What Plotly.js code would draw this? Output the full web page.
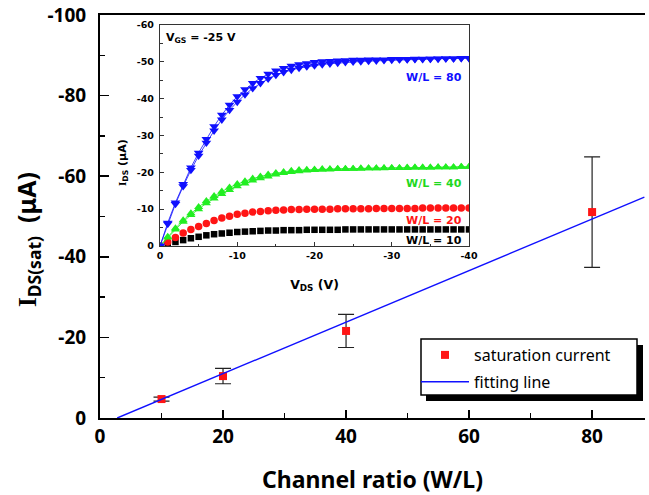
<!DOCTYPE html>
<html>
<head>
<meta charset="utf-8">
<script src="https://cdn.plot.ly/plotly-3.0.1.min.js"></script>
<style>html,body{margin:0;padding:0;background:#fff;}#chart{width:649px;height:495px;}</style>
</head>
<body>
<div id="chart"></div>
<script>
// ---------- main chart data ----------
const channelRatio = [10, 20, 40, 80];
const satCurrent   = [-4.7, -10.4, -21.6, -51.1];
const satError     = [0.5, 1.9, 4.1, 13.7];
const fitX = [2.8, 88.5];
const fitY = [0, -54.8];
const mainXTicks = [0, 20, 40, 60, 80];
const mainXTickText = ['0', '20', '40', '60', '80'];
const mainYTicks = [0, -20, -40, -60, -80, -100];
const mainYTickText = ['0', '-20', '-40', '-60', '-80', '-100'];

// ---------- inset data (output curves, V_GS = -25 V) ----------
const vds = [0,-1,-2,-3,-4,-5,-6,-7,-8,-9,-10,-11,-12,-13,-14,-15,-16,-17,-18,-19,-20,
             -21,-22,-23,-24,-25,-26,-27,-28,-29,-30,-31,-32,-33,-34,-35,-36,-37,-38,-39,-40];
const idsWL10 = [0,-0.5,-1.1,-1.6,-2.1,-2.5,-2.9,-3.2,-3.4,-3.6,-3.8,-3.9,-4.0,-4.1,-4.2,-4.2,-4.3,-4.3,-4.3,-4.4,-4.4,
                 -4.4,-4.4,-4.4,-4.5,-4.5,-4.5,-4.5,-4.5,-4.5,-4.5,-4.5,-4.5,-4.5,-4.5,-4.5,-4.5,-4.5,-4.5,-4.5,-4.5];
const idsWL20 = [0,-1.1,-2.3,-3.5,-4.5,-5.3,-6.1,-6.9,-7.6,-8.1,-8.6,-8.9,-9.2,-9.4,-9.6,-9.7,-9.8,-9.9,-9.9,-10.0,-10.0,
                 -10.0,-10.0,-10.1,-10.1,-10.1,-10.1,-10.1,-10.2,-10.2,-10.2,-10.2,-10.2,-10.2,-10.3,-10.3,-10.3,-10.3,-10.3,-10.3,-10.3];
const idsWL40a = [0,-2.5,-4.8,-7.0,-8.9,-10.6,-12.2,-13.6,-14.8,-15.9,-16.8,-17.6,-18.3,-18.9,-19.4,-19.8,-20.1,-20.4,-20.6,-20.7,-20.8,
                  -20.9,-20.9,-21.0,-21.0,-21.0,-21.1,-21.1,-21.1,-21.2,-21.2,-21.2,-21.3,-21.3,-21.3,-21.3,-21.4,-21.4,-21.4,-21.5,-21.5];
const idsWL40b = [0,-2.3,-4.5,-6.6,-8.4,-10.0,-11.6,-12.9,-14.1,-15.2,-16.2,-17.0,-17.8,-18.4,-18.9,-19.4,-19.8,-20.1,-20.3,-20.5,-20.6,
                  -20.7,-20.8,-20.9,-20.9,-21.0,-21.0,-21.1,-21.1,-21.1,-21.2,-21.2,-21.2,-21.3,-21.3,-21.3,-21.4,-21.4,-21.4,-21.5,-21.5];
const idsWL80a = [0,-6.3,-11.8,-16.8,-21.3,-25.3,-29.0,-32.5,-35.6,-38.3,-40.6,-42.5,-44.2,-45.6,-46.7,-47.6,-48.3,-48.9,-49.3,-49.6,-49.9,
                  -50.1,-50.2,-50.3,-50.4,-50.5,-50.5,-50.6,-50.6,-50.6,-50.7,-50.7,-50.7,-50.8,-50.8,-50.8,-50.9,-50.9,-50.9,-51.0,-51.0];
const idsWL80b = [0,-6.0,-11.4,-16.2,-20.6,-24.5,-28.0,-31.3,-34.3,-36.9,-39.1,-41.1,-42.8,-44.2,-45.4,-46.4,-47.2,-47.8,-48.3,-48.7,-49.0,
                  -49.3,-49.5,-49.7,-49.9,-50.0,-50.1,-50.2,-50.3,-50.4,-50.5,-50.6,-50.6,-50.7,-50.7,-50.8,-50.8,-50.9,-50.9,-51.0,-51.0];
const insetXTicks = [0, -10, -20, -30, -40];
const insetXTickText = ['0', '-10', '-20', '-30', '-40'];
const insetYTicks = [0, -10, -20, -30, -40, -50, -60];
const insetYTickText = ['0', '-10', '-20', '-30', '-40', '-50', '-60'];

// ---------- layout helpers (pixel -> paper) ----------
const PL = 100, PR = 645, PT = 15, PB = 418;
const px = x => (x - PL) / (PR - PL);
const py = y => (PB - y) / (PB - PT);

const MAINFONT = 'Noto Sans, Open Sans, sans-serif';
const INSETFONT = 'DejaVu Sans, sans-serif';
const BLUE = '#1010ff', GREEN = '#22ee22', RED = '#ff1515';

const traces = [
  {x: channelRatio, y: satCurrent, name: 'saturation current', type: 'scatter', mode: 'markers',
   marker: {symbol: 'square', size: 8, color: RED},
   error_y: {type: 'data', array: satError, visible: true, color: '#222', thickness: 1.2, width: 8},
   legendgroup: 'a'},
  {x: fitX, y: fitY, name: 'fitting line', type: 'scatter', mode: 'lines',
   line: {color: BLUE, width: 1.4}, legendgroup: 'b'},
  // inset
  {x: vds, y: idsWL10, xaxis: 'x2', yaxis: 'y2', mode: 'markers', showlegend: false,
   marker: {symbol: 'square', size: 6.5, color: '#000'}},
  {x: vds, y: idsWL20, xaxis: 'x2', yaxis: 'y2', mode: 'markers', showlegend: false,
   marker: {symbol: 'circle', size: 7.5, color: RED}},
  {x: vds, y: idsWL40b, xaxis: 'x2', yaxis: 'y2', mode: 'lines+markers', showlegend: false,
   line: {color: GREEN, width: 0.8}, marker: {symbol: 'triangle-up', size: 8, color: GREEN}},
  {x: vds, y: idsWL40a, xaxis: 'x2', yaxis: 'y2', mode: 'lines+markers', showlegend: false,
   line: {color: GREEN, width: 0.8}, marker: {symbol: 'triangle-up', size: 8, color: GREEN}},
  {x: vds, y: idsWL80b, xaxis: 'x2', yaxis: 'y2', mode: 'lines+markers', showlegend: false,
   line: {color: BLUE, width: 0.8}, marker: {symbol: 'triangle-down', size: 8.5, color: BLUE}},
  {x: vds, y: idsWL80a, xaxis: 'x2', yaxis: 'y2', mode: 'lines+markers', showlegend: false,
   line: {color: BLUE, width: 0.8}, marker: {symbol: 'triangle-down', size: 8.5, color: BLUE}}
];

const mainTickFont = {family: MAINFONT, size: 19, color: '#000', weight: 700};
const insetTickFont = {family: INSETFONT, size: 9.5, color: '#000', weight: 700};

const layout = {
  width: 649, height: 495,
  margin: {l: PL, r: 649 - PR, t: PT, b: 495 - PB},
  paper_bgcolor: '#fff', plot_bgcolor: '#fff',
  showlegend: true,
  legend: {x: px(416), y: py(338), xanchor: 'left', yanchor: 'top',
           bgcolor: 'rgba(0,0,0,0)', borderwidth: 0, itemwidth: 48,
           traceorder: 'grouped', tracegroupgap: 3,
           font: {family: MAINFONT, size: 16, color: '#000'}},
  xaxis: {domain: [0, 1], range: [0, 88.6], tickmode: 'array', tickvals: mainXTicks, ticktext: mainXTickText,
          ticks: 'inside', ticklen: 8, tickwidth: 1.5, tickcolor: '#000',
          minor: {tickvals: [10, 30, 50, 70], ticks: 'inside', ticklen: 5, tickwidth: 1.5, tickcolor: '#000'},
          showline: true, linewidth: 2, linecolor: '#000', mirror: true,
          showgrid: false, zeroline: false, tickfont: mainTickFont,
          title: {text: 'Channel ratio (W/L)', font: {family: MAINFONT, size: 23, color: '#000', weight: 700}, standoff: 28}},
  yaxis: {domain: [0, 1], range: [0, -100], tickmode: 'array', tickvals: mainYTicks, ticktext: mainYTickText,
          ticks: 'inside', ticklen: 9, tickwidth: 1.5, tickcolor: '#000',
          minor: {tickvals: [-10, -30, -50, -70, -90], ticks: 'inside', ticklen: 5, tickwidth: 1.5, tickcolor: '#000'},
          showline: true, linewidth: 2, linecolor: '#000', mirror: false,
          showgrid: false, zeroline: false, tickfont: mainTickFont, ticklabelstandoff: 8},
  xaxis2: {domain: [px(160), px(469)], anchor: 'y2', range: [0, -40], tickmode: 'array',
           tickvals: insetXTicks, ticktext: insetXTickText,
           ticks: 'inside', ticklen: 4, tickwidth: 1, tickcolor: '#333',
           minor: {tickvals: [-5, -15, -25, -35], ticks: 'inside', ticklen: 2.5, tickwidth: 1, tickcolor: '#333'},
           showline: true, linewidth: 1.2, linecolor: '#333', mirror: true,
           showgrid: false, zeroline: false, tickfont: insetTickFont,
           title: {text: 'V<sub>DS</sub> (V)', font: {family: INSETFONT, size: 12.5, color: '#000', weight: 700}, standoff: 20}},
  yaxis2: {domain: [py(246), py(25)], anchor: 'x2', range: [0, -60], tickmode: 'array',
           tickvals: insetYTicks, ticktext: insetYTickText,
           ticks: 'inside', ticklen: 4, tickwidth: 1, tickcolor: '#333',
           minor: {tickvals: [-5, -15, -25, -35, -45, -55], ticks: 'inside', ticklen: 2.5, tickwidth: 1, tickcolor: '#333'},
           showline: true, linewidth: 1.2, linecolor: '#333', mirror: true,
           showgrid: false, zeroline: false, tickfont: insetTickFont, ticklabelstandoff: 3},
  shapes: [
    {type: 'rect', xref: 'paper', yref: 'paper', layer: 'above',
     x0: px(426), x1: px(643), y0: py(345), y1: py(401), fillcolor: '#000', line: {width: 0}},
    {type: 'rect', xref: 'paper', yref: 'paper', layer: 'above',
     x0: px(421), x1: px(637), y0: py(339), y1: py(395), fillcolor: '#fff', line: {color: '#000', width: 1.5}}
  ],
  annotations: [
    {text: '<span style="font-family:\'Liberation Serif\',serif">I</span><sub>DS(sat)</sub>  (μA)', textangle: -90,
     xref: 'paper', yref: 'paper', x: px(27), y: py(240), xanchor: 'center', yanchor: 'middle', showarrow: false,
     font: {family: MAINFONT, size: 25, color: '#000', weight: 700}},
    {text: '<span style="font-family:\'Liberation Serif\',serif">I</span><sub>DS</sub> (μA)', textangle: -90,
     xref: 'paper', yref: 'paper', x: px(123), y: py(163), xanchor: 'center', yanchor: 'middle', showarrow: false,
     font: {family: INSETFONT, size: 11, color: '#000', weight: 700}},
    {text: 'V<sub>GS</sub> = -25 V', xref: 'paper', yref: 'paper', x: px(164), y: py(38),
     xanchor: 'left', yanchor: 'middle', showarrow: false,
     font: {family: INSETFONT, size: 11, color: '#000', weight: 700}},
    {text: 'W/L = 80', xref: 'paper', yref: 'paper', x: px(464), y: py(77), xanchor: 'right', yanchor: 'middle',
     showarrow: false, font: {family: INSETFONT, size: 11, color: BLUE, weight: 700}},
    {text: 'W/L = 40', xref: 'paper', yref: 'paper', x: px(464), y: py(183), xanchor: 'right', yanchor: 'middle',
     showarrow: false, font: {family: INSETFONT, size: 11, color: '#1ed81e', weight: 700}},
    {text: 'W/L = 20', xref: 'paper', yref: 'paper', x: px(464), y: py(220), xanchor: 'right', yanchor: 'middle',
     showarrow: false, font: {family: INSETFONT, size: 11, color: RED, weight: 700}},
    {text: 'W/L = 10', xref: 'paper', yref: 'paper', x: px(464), y: py(241), xanchor: 'right', yanchor: 'middle',
     showarrow: false, font: {family: INSETFONT, size: 11, color: '#000', weight: 700}}
  ]
};

Plotly.newPlot('chart', traces, layout, {displayModeBar: false, staticPlot: true});
</script>
</body>
</html>
